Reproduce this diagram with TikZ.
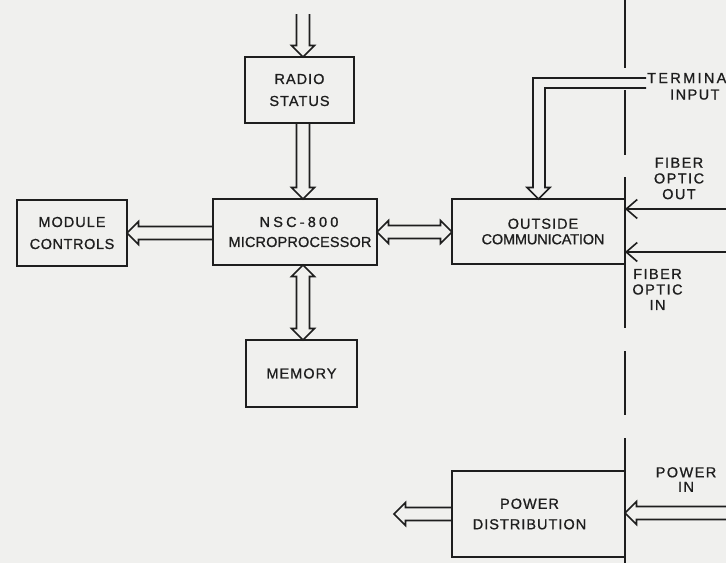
\documentclass[tikz,border=0pt]{standalone}
\usepackage{fontspec}
\setmainfont{Liberation Sans}[LetterSpace=7, FakeBold=0.9]
\usetikzlibrary{calc,arrows.meta}
\definecolor{paper}{RGB}{240,240,238}
\definecolor{ink}{RGB}{30,30,30}
\tikzset{
  blk/.style={draw=ink, line width=1.7pt, minimum width=#1, inner sep=0pt, outer sep=0pt, align=center, text=ink},
  lbl/.style={inner sep=0pt, align=center, text=ink},
  hollow/.style={to path={
    ($(\tikztotarget)!11.5pt!(\tikztostart)$) coordinate (hb)
    ($(\tikztostart)!6.5pt!90:(\tikztotarget)$) -- ($(hb)!6.5pt!90:(\tikztotarget)$) -- ($(hb)!11.5pt!90:(\tikztotarget)$) -- (\tikztotarget) -- ($(hb)!11.5pt!-90:(\tikztotarget)$) -- ($(hb)!6.5pt!-90:(\tikztotarget)$) -- ($(\tikztostart)!6.5pt!-90:(\tikztotarget)$)
  }},
  dhollow/.style={to path={
    ($(\tikztotarget)!11.5pt!(\tikztostart)$) coordinate (hb)
    ($(\tikztostart)!11.5pt!(\tikztotarget)$) coordinate (ha)
    ($(ha)!6.5pt!90:(\tikztotarget)$) -- ($(hb)!6.5pt!90:(\tikztotarget)$) -- ($(hb)!11.5pt!90:(\tikztotarget)$) -- (\tikztotarget) -- ($(hb)!11.5pt!-90:(\tikztotarget)$) -- ($(hb)!6.5pt!-90:(\tikztotarget)$) -- ($(ha)!6.5pt!-90:(\tikztotarget)$) -- ($(ha)!11.5pt!-90:(\tikztotarget)$) -- (\tikztostart) -- ($(ha)!11.5pt!90:(\tikztotarget)$) -- cycle
  }},
  conn/.style={draw=ink, line width=1.6pt, line join=miter},
  barb/.style={draw=ink, line width=1.6pt, -{Straight Barb[length=11pt,width=19pt]}}
}
\begin{document}
\begin{tikzpicture}[x=1pt,y=-1pt]
\useasboundingbox (0,0) rectangle (726,563);
\fill[paper] (0,0) rectangle (726,563);

% boxes
\node[blk=109pt, minimum height=66pt, font=\fontsize{14.5}{22}\selectfont] (radio) at (299.5,90) {RADIO\\STATUS};
\node[blk=110pt, minimum height=66pt, font=\fontsize{14.5}{22}\selectfont] (module) at (72,233) {MODULE\\{\addfontfeature{LetterSpace=4}CONTROLS}};
\node[blk=164pt, minimum height=66pt, font=\fontsize{14.5}{20}\selectfont\addfontfeature{LetterSpace=1}] (nsc) at (295,232) {\hspace*{8pt}{\addfontfeature{LetterSpace=22}NSC-800}\\\hspace*{10pt}MICROPROCESSOR};
\node[blk=111pt, minimum height=67pt, font=\fontsize{14.5}{20}\selectfont] (memory) at (301.5,373.5) {MEMORY};
\node[blk=173pt, minimum height=65pt, font=\fontsize{14.5}{15.5}\selectfont] (outside) at (538.5,231.5) {\hspace*{9pt}OUTSIDE\\\hspace*{9pt}{\addfontfeature{LetterSpace=-1}COMMUNICATION}};
\node[blk=173pt, minimum height=86pt, font=\fontsize{14.5}{20.5}\selectfont] (power) at (538.5,514) {\hspace*{-18pt}POWER\\\hspace*{-18pt}DISTRIBUTION};

% side labels
\node[lbl, anchor=base west, font=\fontsize{14.5}{16}\selectfont\addfontfeature{LetterSpace=16}] (term) at (647,83) {TERMINAL};
\node[lbl, anchor=base west, font=\fontsize{14.5}{16}\selectfont\addfontfeature{LetterSpace=10}] (input) at (670,99.5) {INPUT};
\node[lbl, font=\fontsize{14.5}{15.7}\selectfont\addfontfeature{LetterSpace=10}] (fout) at (679,178.5) {FIBER\\OPTIC\\OUT};
\node[lbl, font=\fontsize{14.5}{15.5}\selectfont\addfontfeature{LetterSpace=10}] (fin) at (657.5,289.5) {FIBER\\OPTIC\\IN};
\node[lbl, font=\fontsize{14.5}{14.5}\selectfont\addfontfeature{LetterSpace=10}] (pwin) at (686,479.5) {POWER\\IN};

% bus
\draw[conn] (625,0) -- (625,68);
\draw[conn] (625,90) -- (625,155);
\draw[conn] (625,177) -- (625,328);
\draw[conn] (625,351) -- (625,415);
\draw[conn] (625,438) -- (625,563);

% free ends
\coordinate (rin) at (303,14);
\coordinate (pout) at (394,514);
\coordinate (pin) at (732,513);
\coordinate (fo) at (732,209);
\coordinate (fi) at (732,252);

% hollow bus arrows
\draw[conn] (rin) to[hollow] (rin |- radio.north);
\draw[conn] (rin |- radio.south) to[hollow] (rin |- nsc.north);
\draw[conn] (rin |- nsc.south) to[dhollow] (rin |- memory.north);
\draw[conn] (nsc.west |- module.east) to[hollow] (module.east);
\draw[conn] (nsc.east) to[dhollow] (nsc.east -| outside.west);
\draw[conn] (power.west) to[hollow] (pout);
\draw[conn] (pin) to[hollow] (power.east |- pin);

% terminal input
\draw[conn] (646,78) -- (533,78) -- (533,187.5) -- (527,187.5) -- (outside.north) -- (550,187.5) -- (545,187.5) -- (545,88) -- (646,88);

% fiber optic arrows
\draw[barb] (fo) -- (fo -| outside.east);
\draw[barb] (fi) -- (fi -| outside.east);
\end{tikzpicture}
\end{document}
